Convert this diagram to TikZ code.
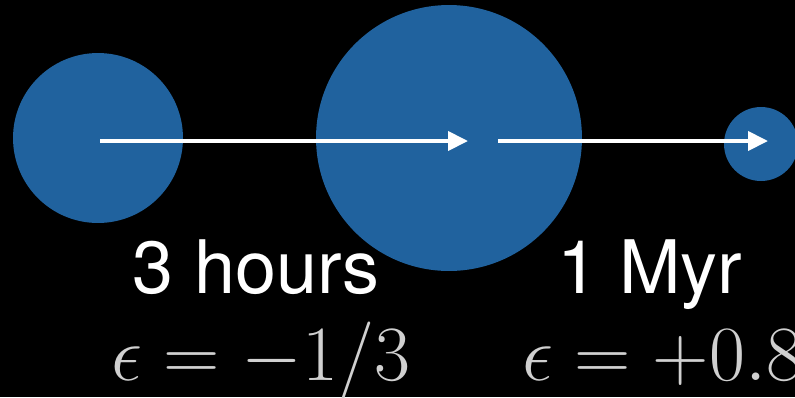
\documentclass[tikz,border=0pt]{standalone}
\usepackage{fix-cm}
\usepackage{fontspec}
\setsansfont{TeX Gyre Heros}
\usetikzlibrary{arrows.meta}
\definecolor{pianeta}{RGB}{32,98,158}
\definecolor{grigio}{RGB}{208,208,208}

\begin{document}
\begin{tikzpicture}[x=0.02cm, y=-0.02cm,
    >={Triangle[length=0.4cm, width=0.38cm]},
    corpo/.style={circle, fill=pianeta, inner sep=0pt},
    freccia/.style={->, white, line width=0.08cm},
    tempo/.style={white, anchor=base, inner sep=0pt, font=\sffamily\fontsize{42}{50}\selectfont},
    eps/.style={grigio, anchor=base west, inner sep=0pt, font=\fontsize{44.5}{52}\selectfont}]
    % Sfondo
    \fill[black] (0,0) rectangle (795,397);
    \useasboundingbox (0,0) rectangle (795,397);

    % Corpi
    \node[corpo, minimum size=3.4cm] (sinistra) at (98,138) {};
    \node[corpo, minimum size=5.32cm] (centro) at (449,138) {};
    \node[corpo, minimum size=1.48cm] (destra) at (761,144) {};

    % Frecce
    \coordinate (p1) at (100,141);
    \coordinate (p2) at (468,141);
    \coordinate (p3) at (498,141);
    \coordinate (p4) at (768,141);
    \draw[freccia] (p1) -- (p2);
    \draw[freccia] (p3) -- (p4);

    % Etichette
    \node[tempo] (ore) at (256,293) {3 hours};
    \node[tempo] (myr) at (650,293) {1 Myr};
    \node[eps] (epsa) at (111,380) {$\epsilon=-1/3$};
    \node[eps] (epsb) at (522,380) {$\epsilon=+0.8$};
\end{tikzpicture}
\end{document}
